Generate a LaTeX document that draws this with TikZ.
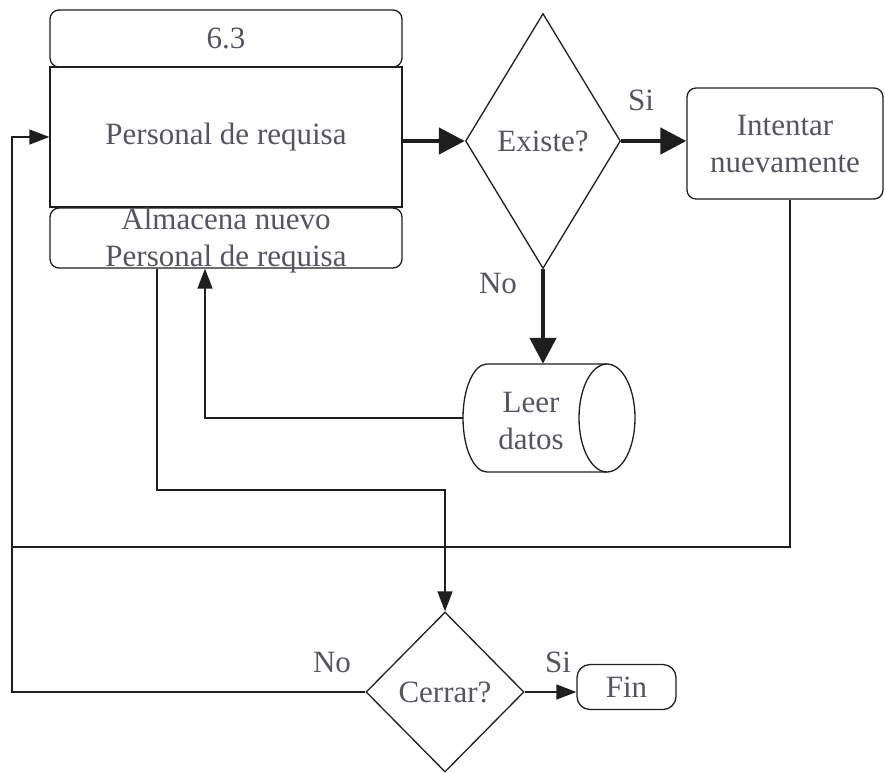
\documentclass[tikz,border=0pt]{standalone}
\usepackage{fontspec}
\setmainfont{Liberation Serif}
\usetikzlibrary{shapes.geometric,arrows.meta,calc}
\definecolor{ink}{HTML}{1E1E1E}
\definecolor{txt}{HTML}{55555F}
\begin{document}
\begin{tikzpicture}[x=1pt,y=-1pt,
  font=\fontsize{31}{37}\selectfont, text=txt,
  box/.style={draw=ink, line width=1.3pt, inner sep=0pt, align=center},
  rbox/.style={box, rounded corners=9pt},
  decision/.style={diamond, draw=ink, line width=1.3pt, inner sep=0pt, align=center},
  thinline/.style={draw=ink, line width=1.4pt},
  thickline/.style={draw=ink, line width=4.5pt},
  thinarrow/.style={thinline, -{Triangle[length=20pt,width=15pt]}},
  thickarrow/.style={thickline, -{Triangle[length=26pt,width=26pt]}},
  lbl/.style={inner sep=0pt}]
\useasboundingbox (0,0) rectangle (885,772);

% process block: number, name, storage note
\node[rbox, minimum width=352pt, minimum height=57pt] (num) at (226,38.5) {6.3};
\node[box, minimum width=352pt, minimum height=140pt] (main) at (226,137) {Personal de requisa};
\node[rbox, minimum width=352pt, minimum height=60pt] (bot) at (226,238) {};
\node[lbl, align=center] (bottxt) at (226,241) {Almacena nuevo\\Personal de requisa};

% decisions and other steps
\node[decision, minimum width=155pt, minimum height=255pt] (exist) at (543,141) {Existe?};
\node[rbox, minimum width=196pt, minimum height=111pt] (inten) at (785,143.5) {Intentar\\nuevamente};

% stored data: horizontal drum, drawn by hand inside an invisible frame
\node[inner sep=0pt, minimum width=172pt, minimum height=108pt] (leer) at (549,418) {};
\draw[draw=ink, line width=1.3pt]
  (607,364) -- (487,364)
  arc[start angle=270, end angle=90, x radius=24, y radius=54]
  -- (607,472);
\draw[draw=ink, line width=1.3pt] (607,418) ellipse[x radius=28, y radius=54];
\node[lbl, align=center] (leertxt) at (531,421) {Leer\\datos};

\node[decision, minimum width=158pt, minimum height=160pt] (cer) at (445,692) {Cerrar?};
\node[box, rounded corners=13pt, minimum width=99pt, minimum height=45pt] (fin) at (626.5,687) {Fin};

% labels
\node[lbl] (si1) at (641,100) {Si};
\node[lbl] (no1) at (498,283) {No};
\node[lbl] (no2) at (332,662) {No};
\node[lbl] (si2) at (558,662) {Si};

% guide coordinates
\coordinate (lx) at (12,0);
\coordinate (ly) at (0,547);
\coordinate (my) at (0,490);

% thick flow
\draw[thickarrow] (exist.west -| main.east) -- (exist.west);
\draw[thickarrow] (exist.east) -- (exist.east -| inten.west);
\draw[thickarrow] (exist.south) -- (exist.south |- leer.north);

% thin flow
\draw[thinarrow] (leer.west) -| ([xshift=-21pt]bot.south);
\draw[thinarrow] ([xshift=-69pt]bot.south) |- (my -| cer.north) -- (cer.north);
\draw[thinline] ([xshift=5pt]inten.south) |- (ly -| lx);
\draw[thinarrow] (cer.west) -- (cer.west -| lx) |- (main.west);
\draw[thinarrow] (cer.east) -- (cer.east -| fin.west);
\end{tikzpicture}
\end{document}
